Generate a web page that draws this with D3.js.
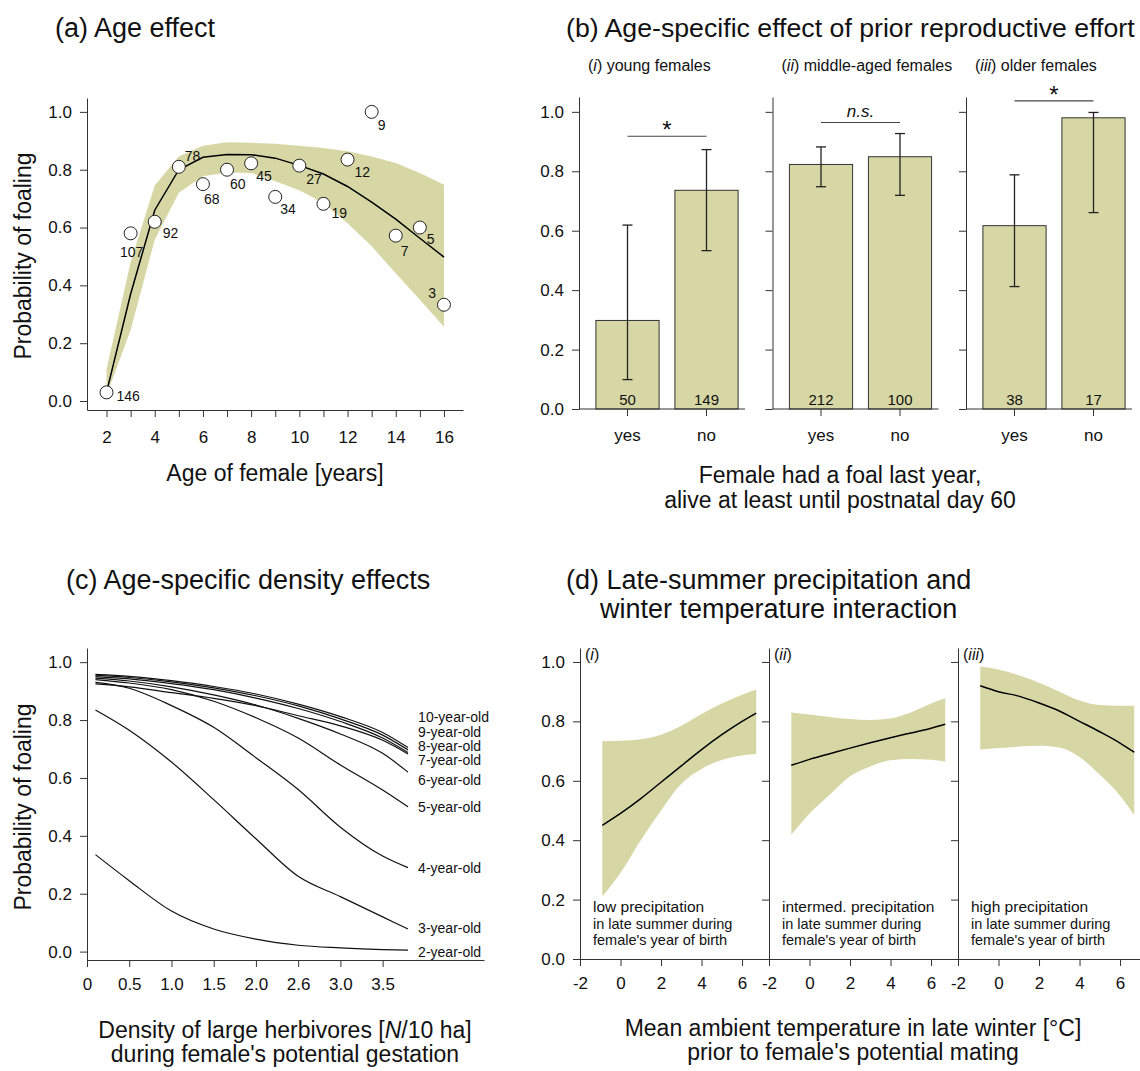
<!DOCTYPE html>
<html>
<head>
<meta charset="utf-8">
<script src="https://cdn.jsdelivr.net/npm/d3@7"></script>
<style>
  body { margin: 0; background: #fff; }
  svg { display: block; font-family: "Liberation Sans", Arial, sans-serif; }
</style>
</head>
<body>
<svg id="fig" width="1140" height="1071"></svg>
<script>
// ---- (a) age effect ----
const ages = [2, 3, 4, 5, 6, 7, 8, 9, 10, 11, 12, 13, 14, 15, 16];
const ageObs = [0.03, 0.58, 0.62, 0.81, 0.75, 0.80, 0.822, 0.706, 0.814, 0.682, 0.835, 1.0, 0.572, 0.60, 0.333];
const ageN = [146, 107, 92, 78, 68, 60, 45, 34, 27, 19, 12, 9, 7, 5, 3];
const ageFit = [0.03, 0.37, 0.66, 0.80, 0.843, 0.853, 0.852, 0.84, 0.815, 0.785, 0.742, 0.688, 0.629, 0.563, 0.498];
const ageUpper = [0.11, 0.48, 0.745, 0.846, 0.883, 0.895, 0.893, 0.89, 0.883, 0.875, 0.864, 0.846, 0.823, 0.789, 0.748];
const ageLower = [0.02, 0.246, 0.558, 0.72, 0.777, 0.79, 0.789, 0.76, 0.729, 0.685, 0.615, 0.535, 0.442, 0.35, 0.257];
const probTicks = [0, 0.2, 0.4, 0.6, 0.8, 1.0];

// ---- (b) prior reproductive effort ----
const ageGroups = ["young females", "middle-aged females", "older females"];
const groupNums = ["i", "ii", "iii"];
const priorFoal = ["yes", "no"];
const barMean = [[0.298, 0.736], [0.823, 0.849], [0.617, 0.98]];
const barLo = [[0.099, 0.533], [0.748, 0.719], [0.412, 0.661]];
const barHi = [[0.619, 0.873], [0.882, 0.927], [0.788, 0.998]];
const barN = [[50, 149], [212, 100], [38, 17]];
const sigText = ["*", "n.s.", "*"];
const sigLevel = [0.918, 0.964, 1.037];

// ---- (c) density effects ----
const density = [0.1, 0.5, 1.0, 1.5, 2.0, 2.5, 3.0, 3.5, 3.8];
const densityTicks = [0, 0.5, 1.0, 1.5, 2.0, 2.5, 3.0, 3.5];
const densityTickLabels = ["0", "0.5", "1.0", "1.5", "2.0", "2.6", "3.0", "3.5"];
const cohorts = ["2-year-old", "3-year-old", "4-year-old", "5-year-old", "6-year-old",
  "7-year-old", "8-year-old", "9-year-old", "10-year-old"];
const cohortProb = [
  [0.335, 0.245, 0.14, 0.078, 0.043, 0.022, 0.013, 0.007, 0.005],
  [0.835, 0.765, 0.655, 0.525, 0.39, 0.26, 0.19, 0.12, 0.078],
  [0.93, 0.91, 0.85, 0.775, 0.67, 0.56, 0.43, 0.33, 0.29],
  [0.94, 0.928, 0.905, 0.865, 0.808, 0.738, 0.645, 0.558, 0.50],
  [0.945, 0.935, 0.915, 0.887, 0.852, 0.806, 0.752, 0.685, 0.62],
  [0.925, 0.915, 0.895, 0.875, 0.85, 0.815, 0.78, 0.73, 0.683],
  [0.95, 0.942, 0.926, 0.905, 0.876, 0.84, 0.795, 0.738, 0.688],
  [0.955, 0.947, 0.932, 0.911, 0.884, 0.849, 0.804, 0.748, 0.697],
  [0.958, 0.951, 0.936, 0.916, 0.89, 0.855, 0.812, 0.757, 0.705]
];
const cohortLabelAt = [-0.003, 0.08, 0.288, 0.498, 0.593, 0.662, 0.71, 0.76, 0.809];

// ---- (d) precipitation x temperature ----
const precipGroups = ["low precipitation", "intermed. precipitation", "high precipitation"];
const temp = [-0.9, 0, 1, 2, 3, 4, 5, 6, 6.7];
const tempTicks = [-2, 0, 2, 4, 6];
const precipFit = [
  [0.45, 0.49, 0.54, 0.595, 0.65, 0.705, 0.755, 0.80, 0.828],
  [0.652, 0.672, 0.691, 0.71, 0.728, 0.745, 0.761, 0.777, 0.79],
  [0.92, 0.90, 0.885, 0.862, 0.835, 0.80, 0.765, 0.727, 0.696]
];
const precipUpper = [
  [0.733, 0.735, 0.74, 0.755, 0.785, 0.825, 0.86, 0.89, 0.907],
  [0.83, 0.823, 0.815, 0.808, 0.805, 0.81, 0.83, 0.86, 0.878],
  [0.985, 0.975, 0.955, 0.93, 0.9, 0.87, 0.855, 0.853, 0.853]
];
const precipLower = [
  [0.21, 0.29, 0.40, 0.50, 0.59, 0.64, 0.67, 0.685, 0.69],
  [0.418, 0.49, 0.553, 0.615, 0.648, 0.669, 0.673, 0.671, 0.665],
  [0.705, 0.71, 0.715, 0.718, 0.712, 0.68, 0.62, 0.55, 0.485]
];

const svg = d3.select("#fig");
const KHAKI = "#d7d7a5";
const INK = "#111";
const AXIS = "#333";
const fmt1 = d3.format(".1f");
const TITLE = 27;

function styleAxis(g, size) {
  g.attr("font-family", null).attr("font-size", null);
  g.select(".domain").attr("stroke", AXIS);
  g.selectAll(".tick line").attr("stroke", AXIS);
  g.selectAll(".tick text").attr("font-size", size).attr("fill", INK);
  return g;
}

function label(x, y, txt, size, anchor) {
  return svg.append("text")
    .attr("x", x).attr("y", y)
    .attr("font-size", size)
    .attr("text-anchor", anchor || "start")
    .attr("fill", INK)
    .text(txt);
}

function yLabel(cx, cy, txt) {
  svg.append("text")
    .attr("transform", `translate(${cx},${cy}) rotate(-90)`)
    .attr("text-anchor", "middle")
    .attr("dy", "0.35em")
    .attr("font-size", 23)
    .attr("fill", INK)
    .text(txt);
}

// ================= (a) =================
const xA = d3.scaleLinear().domain([1.19, 16.79]).range([87, 463]);
const yA = d3.scaleLinear().domain([-0.031, 1.048]).range([410, 98]);

svg.append("path")
  .datum(ages)
  .attr("fill", KHAKI)
  .attr("d", d3.area()
    .x((d) => xA(d))
    .y0((d, i) => yA(ageLower[i]))
    .y1((d, i) => yA(ageUpper[i])));

svg.append("path")
  .datum(ages)
  .attr("fill", "none")
  .attr("stroke", "#000")
  .attr("stroke-width", 1.5)
  .attr("d", d3.line().x((d) => xA(d)).y((d, i) => yA(ageFit[i])));

svg.selectAll("circle.obs")
  .data(ages)
  .enter()
  .append("circle")
  .attr("class", "obs")
  .attr("cx", (d) => xA(d))
  .attr("cy", (d, i) => yA(ageObs[i]))
  .attr("r", 6.5)
  .attr("fill", "#fff")
  .attr("stroke", "#222")
  .attr("stroke-width", 1);

// sample size labels sit next to each point
const nOffset = [[10, 4, "start"], [1, 19, "middle"], [8, 11, "start"], [6, -11, "start"],
  [1, 15, "start"], [3, 14, "start"], [5, 13, "start"], [5, 12, "start"], [7, 13, "start"],
  [8, 9, "start"], [7, 13, "start"], [6, 13, "start"], [5, 15, "start"], [7, 12, "start"],
  [-8, -12, "end"]];
svg.selectAll("text.n")
  .data(ages)
  .enter()
  .append("text")
  .attr("class", "n")
  .attr("x", (d, i) => xA(d) + nOffset[i][0])
  .attr("y", (d, i) => yA(ageObs[i]) + nOffset[i][1])
  .attr("dy", "0.35em")
  .attr("text-anchor", (d, i) => nOffset[i][2])
  .attr("font-size", 14)
  .attr("fill", INK)
  .text((d, i) => ageN[i]);

styleAxis(svg.append("g")
  .attr("transform", "translate(87,0)")
  .call(d3.axisLeft(yA).tickValues(probTicks).tickFormat(fmt1)
    .tickSize(7).tickSizeOuter(0).tickPadding(8)), 17);

styleAxis(svg.append("g")
  .attr("transform", "translate(0,410)")
  .call(d3.axisBottom(xA).tickValues(ages).tickFormat((d) => (d % 2 === 0 ? d : ""))
    .tickSize(7).tickSizeOuter(0).tickPadding(14)), 17);

label(55, 37, "(a) Age effect", TITLE);
yLabel(23, 256, "Probability of foaling");
label(275, 481, "Age of female [years]", 23, "middle");

// ================= (b) =================
const yB = d3.scaleLinear().domain([0, 1.05]).range([409, 97]);

ageGroups.forEach((grp, g) => {
  const ox = 579 + g * 193.5;
  const xB = d3.scaleBand().domain(priorFoal).range([ox + 9, ox + 167])
    .paddingInner(0.2).paddingOuter(0.1);
  const bw = xB.bandwidth();
  const cx = (k) => xB(k) + bw / 2;

  svg.selectAll(`rect.bar${g}`)
    .data(priorFoal)
    .enter()
    .append("rect")
    .attr("class", `bar${g}`)
    .attr("x", (d) => xB(d))
    .attr("y", (d, i) => yB(barMean[g][i]))
    .attr("width", bw)
    .attr("height", (d, i) => yB(0) - yB(barMean[g][i]))
    .attr("fill", KHAKI)
    .attr("stroke", "#333")
    .attr("stroke-width", 1);

  priorFoal.forEach((k, i) => {
    const x = cx(k);
    const eb = svg.append("g").attr("stroke", "#222").attr("stroke-width", 1.3);
    eb.append("line").attr("x1", x).attr("x2", x)
      .attr("y1", yB(barLo[g][i])).attr("y2", yB(barHi[g][i]));
    [barLo[g][i], barHi[g][i]].forEach((v) => {
      eb.append("line").attr("x1", x - 5).attr("x2", x + 5)
        .attr("y1", yB(v)).attr("y2", yB(v));
    });
    label(x, yB(0) - 4, barN[g][i], 15, "middle");
  });

  // significance bracket
  svg.append("line")
    .attr("x1", cx("yes")).attr("x2", cx("no"))
    .attr("y1", yB(sigLevel[g])).attr("y2", yB(sigLevel[g]))
    .attr("stroke", "#444").attr("stroke-width", 1.1);
  const st = svg.append("text")
    .attr("x", (cx("yes") + cx("no")) / 2)
    .attr("text-anchor", "middle")
    .attr("fill", INK)
    .text(sigText[g]);
  if (sigText[g] === "*") {
    st.attr("y", yB(sigLevel[g]) + 2).attr("font-size", 24);
  } else {
    st.attr("y", yB(sigLevel[g]) - 6).attr("font-size", 17).attr("font-style", "italic");
  }

  // axes
  styleAxis(svg.append("g")
    .attr("transform", `translate(${ox},0)`)
    .call(d3.axisLeft(yB).tickValues(probTicks).tickFormat(g === 0 ? fmt1 : () => "")
      .tickSize(7).tickSizeOuter(0).tickPadding(8)), 17);

  const xa = styleAxis(svg.append("g")
    .attr("transform", `translate(0,${yB(0)})`)
    .call(d3.axisBottom(xB).tickSize(7).tickSizeOuter(0).tickPadding(13)), 17);
  xa.select(".domain").remove();
  svg.append("line")
    .attr("x1", ox).attr("x2", ox + 166)
    .attr("y1", yB(0)).attr("y2", yB(0))
    .attr("stroke", AXIS);

  // subpanel title
  const tt = svg.append("text")
    .attr("x", ox + 9).attr("y", 71)
    .attr("font-size", 16).attr("fill", INK);
  tt.append("tspan").text("(");
  tt.append("tspan").attr("font-style", "italic").text(groupNums[g]);
  tt.append("tspan").text(") " + grp);
});

label(566, 37, "(b) Age-specific effect of prior reproductive effort", 26.7);
label(840, 483, "Female had a foal last year,", 23, "middle");
label(840, 508, "alive at least until postnatal day 60", 23, "middle");

// ================= (c) =================
const xC = d3.scaleLinear().domain([0, 4.7]).range([87, 484]);
const yC = d3.scaleLinear().domain([-0.029, 1.049]).range([960, 648]);

svg.selectAll("path.cohort")
  .data(cohortProb)
  .enter()
  .append("path")
  .attr("class", "cohort")
  .attr("fill", "none")
  .attr("stroke", "#111")
  .attr("stroke-width", 1.2)
  .attr("d", (row) => d3.line()
    .curve(d3.curveMonotoneX)
    .x((d, i) => xC(density[i]))
    .y((d) => yC(d))(row));

svg.selectAll("text.cohort")
  .data(cohorts)
  .enter()
  .append("text")
  .attr("class", "cohort")
  .attr("x", xC(3.92))
  .attr("y", (d, i) => yC(cohortLabelAt[i]))
  .attr("dy", "0.35em")
  .attr("font-size", 14)
  .attr("fill", INK)
  .text((d) => d);

styleAxis(svg.append("g")
  .attr("transform", "translate(87,0)")
  .call(d3.axisLeft(yC).tickValues(probTicks).tickFormat(fmt1)
    .tickSize(7).tickSizeOuter(0).tickPadding(8)), 17);

styleAxis(svg.append("g")
  .attr("transform", "translate(0,960)")
  .call(d3.axisBottom(xC).tickValues(densityTicks)
    .tickFormat((d, i) => densityTickLabels[i])
    .tickSize(7).tickSizeOuter(0).tickPadding(11)), 17);

label(66, 589, "(c) Age-specific density effects", TITLE);
yLabel(23, 807, "Probability of foaling");
const cx1 = label(285, 1038, "", 23, "middle");
cx1.append("tspan").text("Density of large herbivores [");
cx1.append("tspan").attr("font-style", "italic").text("N");
cx1.append("tspan").text("/10 ha]");
label(285, 1062, "during female's potential gestation", 23, "middle");

// ================= (d) =================
const yD = d3.scaleLinear().domain([0, 1.047]).range([959, 648]);

precipGroups.forEach((grp, g) => {
  const ox = 580 + g * 189;
  const xD = d3.scaleLinear().domain([-2, 7.33]).range([ox, ox + 189]);

  svg.append("path")
    .datum(temp)
    .attr("fill", KHAKI)
    .attr("d", d3.area()
      .curve(d3.curveMonotoneX)
      .x((d) => xD(d))
      .y0((d, i) => yD(precipLower[g][i]))
      .y1((d, i) => yD(precipUpper[g][i])));

  svg.append("path")
    .datum(temp)
    .attr("fill", "none")
    .attr("stroke", "#000")
    .attr("stroke-width", 1.5)
    .attr("d", d3.line()
      .curve(d3.curveMonotoneX)
      .x((d) => xD(d))
      .y((d, i) => yD(precipFit[g][i])));

  styleAxis(svg.append("g")
    .attr("transform", `translate(${ox},0)`)
    .call(d3.axisLeft(yD).tickValues(probTicks).tickFormat(g === 0 ? fmt1 : () => "")
      .tickSize(7).tickSizeOuter(0).tickPadding(8)), 17);

  styleAxis(svg.append("g")
    .attr("transform", `translate(0,${yD(0)})`)
    .call(d3.axisBottom(xD).tickValues(tempTicks).tickFormat((d) => String(d))
      .tickSize(7).tickSizeOuter(0).tickPadding(11)), 17);

  const pt = svg.append("text")
    .attr("x", ox + 5).attr("y", 660)
    .attr("font-size", 16).attr("fill", INK);
  pt.append("tspan").text("(");
  pt.append("tspan").attr("font-style", "italic").text(groupNums[g]);
  pt.append("tspan").text(")");

  label(ox + 13, 912, grp, 15.5);
  label(ox + 13, 929, "in late summer during", 14.5);
  label(ox + 13, 945, "female's year of birth", 14.5);
});

label(566, 589, "(d) Late-summer precipitation and", TITLE);
label(600, 618, "winter temperature interaction", TITLE);
label(853, 1036, "Mean ambient temperature in late winter [°C]", 23, "middle");
label(853, 1060, "prior to female's potential mating", 23, "middle");
</script>
</body>
</html>
